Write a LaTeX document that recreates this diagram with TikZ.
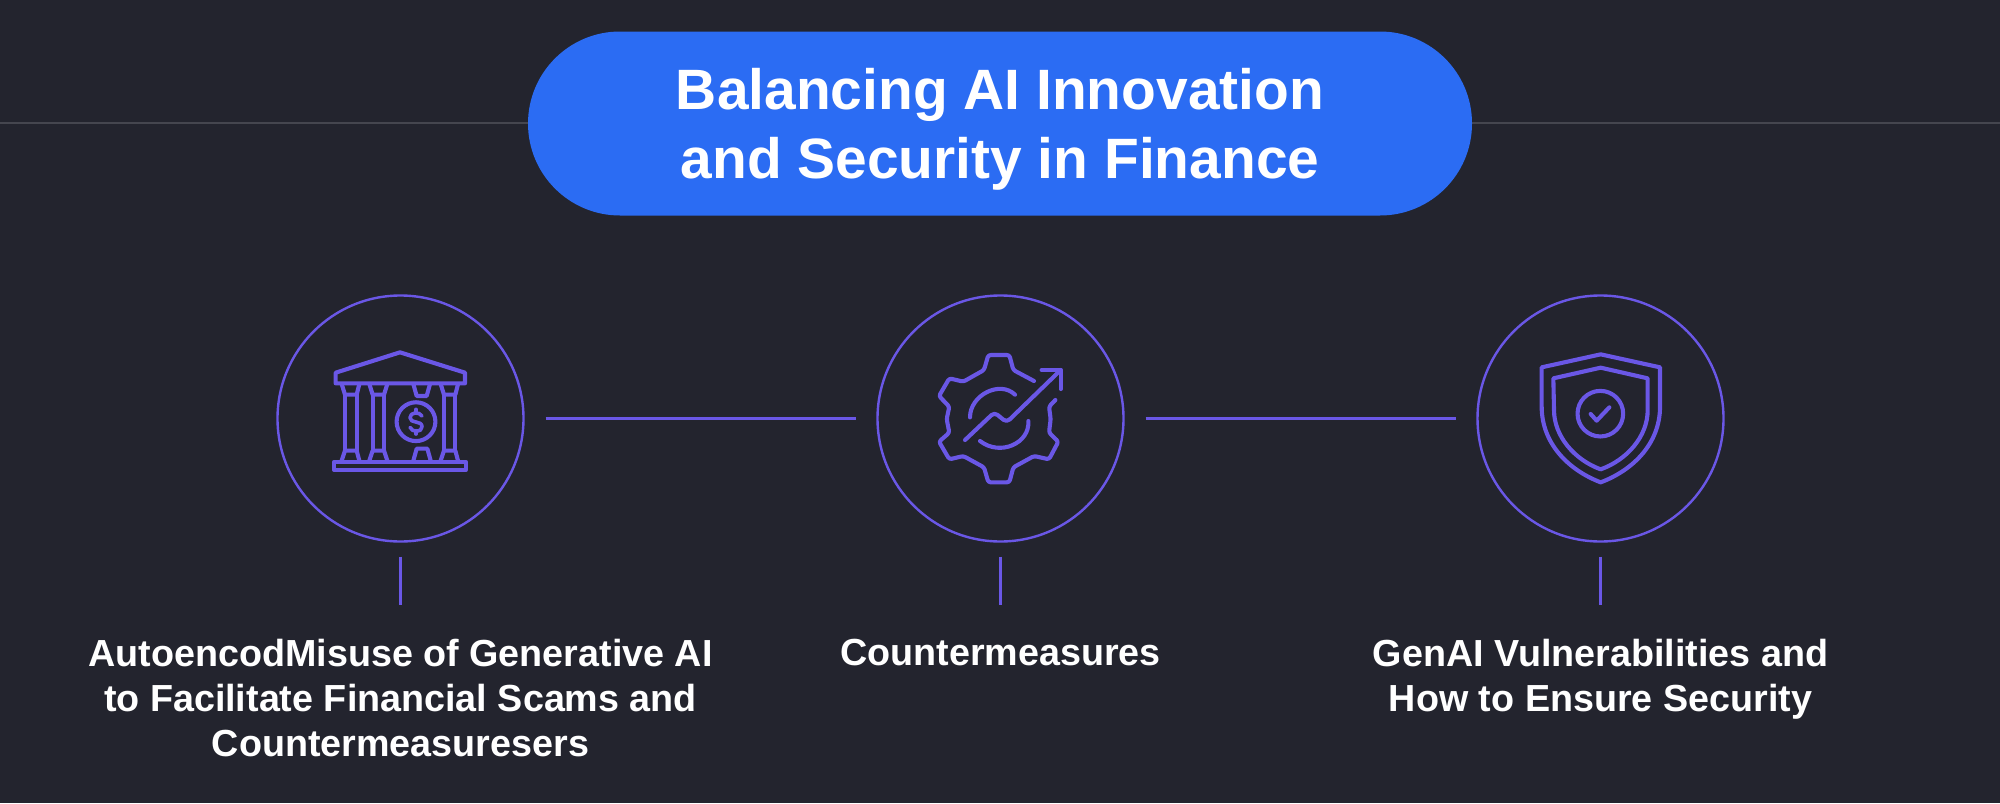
\documentclass[tikz,border=0pt]{standalone}
\usepackage{fontspec}
\setmainfont{Liberation Sans}
\newfontfamily\titlefont{Liberation Sans Bold}
\newfontfamily\labelfont{Liberation Sans Bold}
\definecolor{bgc}{HTML}{23242E}
\definecolor{pillc}{HTML}{2B6CF3}
\definecolor{vio}{HTML}{6A57E6}
\definecolor{rulec}{HTML}{45464F}
\tikzset{
  ringnode/.style={circle,draw=vio,line width=1.2pt,minimum size=123pt,inner sep=0pt,outer sep=0pt},
  linkline/.style={draw=vio,line width=1.2pt},
  iconline/.style={draw=vio,line width=2.05pt,line join=round,line cap=round},
  pillnode/.style={rounded corners=46pt,fill=pillc,minimum width=472pt,minimum height=92pt,inner sep=0pt,outer sep=0pt},
  titletext/.style={text=white,align=center,inner sep=0pt,font=\titlefont\fontsize{28.45}{34.5}\selectfont},
  capnode/.style={text=white,align=center,inner sep=0pt,anchor=north,font=\labelfont\fontsize{18.85}{22.6}\selectfont},
}
\begin{document}
\begin{tikzpicture}[x=0.5pt,y=-0.5pt]
\useasboundingbox (0,0) rectangle (2000,803);
\fill[bgc] (0,0) rectangle (2000,803);
\coordinate (ruleL) at (0,123);
\coordinate (ruleR) at (2000,123);
\draw[rulec,line width=0.6pt] (ruleL) -- (ruleR);
\node[pillnode] (title) at (1000,123.5) {};
\node[titletext] (titlet) at (1000,129) {Balancing AI Innovation\\and Security in Finance};
\node[ringnode] (c1) at (400.5,418.5) {};
\node[ringnode] (c2) at (1000.5,418.5) {};
\node[ringnode] (c3) at (1600.5,418.5) {};
\node[capnode] (t1) at (400.5,638.5) {AutoencodMisuse of Generative AI\\to Facilitate Financial Scams and\\Countermeasuresers};
\node[capnode] (t2) at (1000.5,638.5) {Countermeasures};
\node[capnode] (t3) at (1600.5,638.5) {GenAI Vulnerabilities and\\How to Ensure Security};
\draw[linkline,shorten <=11pt,shorten >=11pt] (c1) -- (c2);
\draw[linkline,shorten <=11pt,shorten >=11pt] (c2) -- (c3);
\draw[linkline,shorten <=7.5pt,shorten >=16.75pt] (c1) -- (t1);
\draw[linkline,shorten <=7.5pt,shorten >=16.75pt] (c2) -- (t2);
\draw[linkline,shorten <=7.5pt,shorten >=16.75pt] (c3.south) -- (t3.north);
% bank icon
\begin{scope}[shift={(300,320)},x=0.16667pt,y=-0.16667pt,iconline]
\draw (107,158) -- (300,97) -- (495,158) -- (495,190) -- (107,190) -- cycle;
\draw (103,425) rectangle (497,450);
\draw (125,192) -- (135,224) -- (170,224) -- (178,192);
\draw (135,224) -- (135,392) (170,224) -- (170,392);
\draw (125,422) -- (135,392) -- (170,392) -- (178,422);
\draw (208,192) -- (218,224) -- (252,224) -- (262,192);
\draw (218,224) -- (218,392) (252,224) -- (252,392);
\draw (208,422) -- (218,392) -- (252,392) -- (262,422);
\draw (422,192) -- (432,224) -- (466,224) -- (474,192);
\draw (432,224) -- (432,392) (466,224) -- (466,392);
\draw (422,422) -- (432,392) -- (466,392) -- (474,422);
\draw (340,192) -- (350,228) -- (380,228) -- (390,192);
\draw (340,422) -- (350,386) -- (382,386) -- (392,422);
\draw (348,305) circle [radius=9.7pt];
\draw[line width=1.8pt] (366,288) .. controls (358,274) and (330,276) .. (330,293) .. controls (330,312) and (366,300) .. (366,320) .. controls (366,338) and (336,338) .. (330,322);
\draw[line width=1.8pt] (348,268) -- (348,278) (348,332) -- (348,342);
\end{scope}
% gear icon
\begin{scope}[shift={(900,320)},x=0.16667pt,y=-0.16667pt,iconline]
\draw[rounded corners=1.2pt] (402,183) -- (340,150) -- (328,105) -- (265,105) -- (252,150) -- (190,185) -- (148,175) -- (117,228) -- (148,260) -- (140,297) -- (148,338) -- (117,365) -- (148,418) -- (190,408) -- (252,442) -- (265,487) -- (328,487) -- (340,442) -- (402,408) -- (447,418) -- (475,365) -- (447,338) -- (452,297) -- (447,260) -- (466,240);
\draw (210,292) .. controls (210,225) and (300,180) .. (345,224);
\draw (240,363) .. controls (300,410) and (390,370) .. (385,303);
\draw[rounded corners=2pt] (195,360) -- (283,277) -- (320,307) -- (482,150);
\draw (425,150) -- (482,150) -- (482,207);
\end{scope}
% shield icon
\begin{scope}[shift={(1500,320)},x=0.16667pt,y=-0.16667pt,iconline]
\draw (125,142) -- (302,103) -- (480,142) -- (480,260) .. controls (480,370) and (400,450) .. (302,487) .. controls (205,450) and (125,370) .. (125,260) -- cycle;
\draw (160,175) -- (302,143) -- (443,175) -- (443,270) .. controls (443,350) and (380,420) .. (302,448) .. controls (225,420) and (162,350) .. (162,270) -- cycle;
\draw (301,281) circle [radius=11.4pt];
\draw (272,282) -- (290,302) -- (328,262);
\end{scope}
\end{tikzpicture}
\end{document}
